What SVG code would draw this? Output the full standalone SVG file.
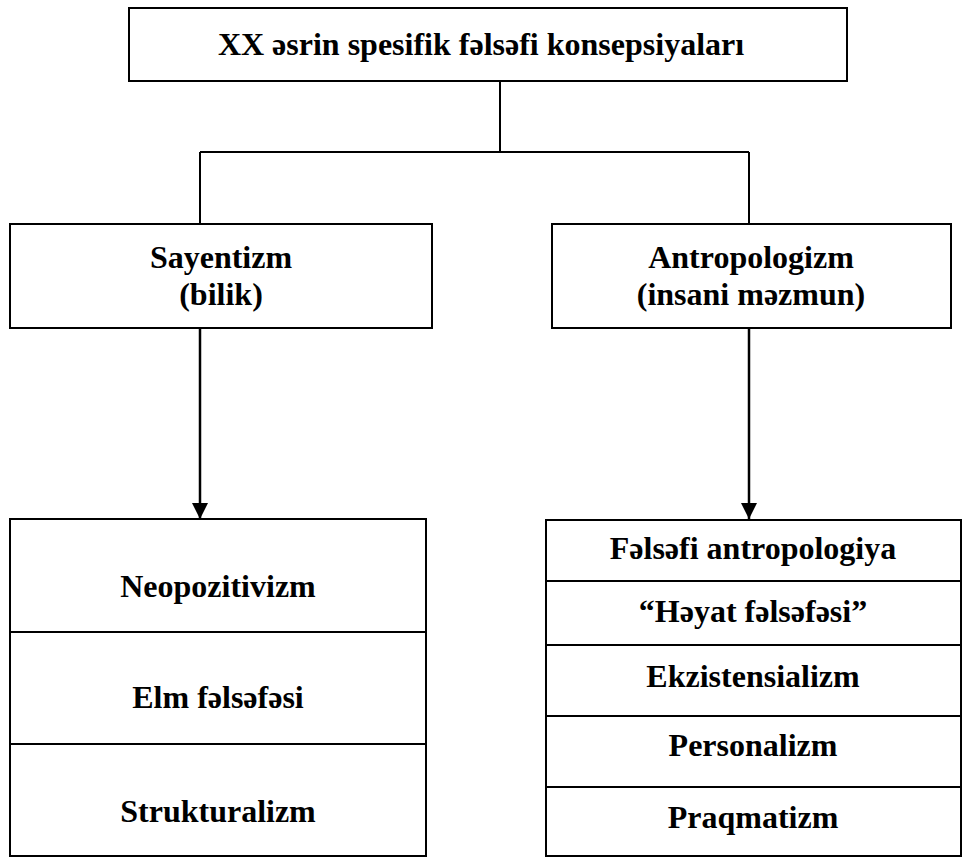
<svg xmlns="http://www.w3.org/2000/svg" width="963" height="857" viewBox="0 0 963 857">
<style>
.box{fill:#fff;stroke:#000;stroke-width:2}
.div{stroke:#000;stroke-width:2}
.con{fill:none;stroke:#000;stroke-width:2}
.arr{fill:none;stroke:#000;stroke-width:2.5}
text{font-family:"Liberation Serif","Times New Roman",serif;font-weight:bold;font-size:32px;fill:#000;text-anchor:middle}
</style>
<defs>
<marker id="ah" markerUnits="userSpaceOnUse" markerWidth="18" markerHeight="18" refX="16" refY="8" orient="auto">
<path d="M0,0 L16,8 L0,16 Z" fill="#000"/>
</marker>
</defs>
<rect width="963" height="857" fill="#fff"/>
<g id="connectors">
<path class="con" d="M500,81 V152 M200,152 H749 M200,152 V224 M749,152 V224"/>
<line class="arr" x1="200" y1="328" x2="200" y2="519" marker-end="url(#ah)"/>
<line class="arr" x1="749" y1="328" x2="749" y2="519" marker-end="url(#ah)"/>
</g>
<g id="root">
<rect class="box" x="129" y="8" width="718" height="73"/>
<text x="481" y="55">XX əsrin spesifik fəlsəfi konsepsiyaları</text>
</g>
<g id="sayentizm">
<rect class="box" x="10" y="224" width="422" height="104"/>
<text x="221" y="268">Sayentizm</text>
<text x="221" y="305">(bilik)</text>
</g>
<g id="antropologizm">
<rect class="box" x="552" y="224" width="399" height="104"/>
<text x="751" y="268">Antropologizm</text>
<text x="751" y="305">(insani məzmun)</text>
</g>
<g id="sayentizm-list">
<rect class="box" x="10" y="519" width="416" height="337"/>
<line class="div" x1="10" y1="632" x2="426" y2="632"/>
<line class="div" x1="10" y1="744" x2="426" y2="744"/>
<text x="218" y="597">Neopozitivizm</text>
<text x="218" y="708">Elm fəlsəfəsi</text>
<text x="218" y="822">Strukturalizm</text>
</g>
<g id="antropologizm-list">
<rect class="box" x="546" y="520" width="415" height="336"/>
<line class="div" x1="546" y1="581" x2="961" y2="581"/>
<line class="div" x1="546" y1="645" x2="961" y2="645"/>
<line class="div" x1="546" y1="716" x2="961" y2="716"/>
<line class="div" x1="546" y1="787" x2="961" y2="787"/>
<text x="753" y="559">Fəlsəfi antropologiya</text>
<text x="753" y="622">“Həyat fəlsəfəsi”</text>
<text x="753" y="687">Ekzistensializm</text>
<text x="753" y="756">Personalizm</text>
<text x="753" y="828">Praqmatizm</text>
</g>
</svg>
